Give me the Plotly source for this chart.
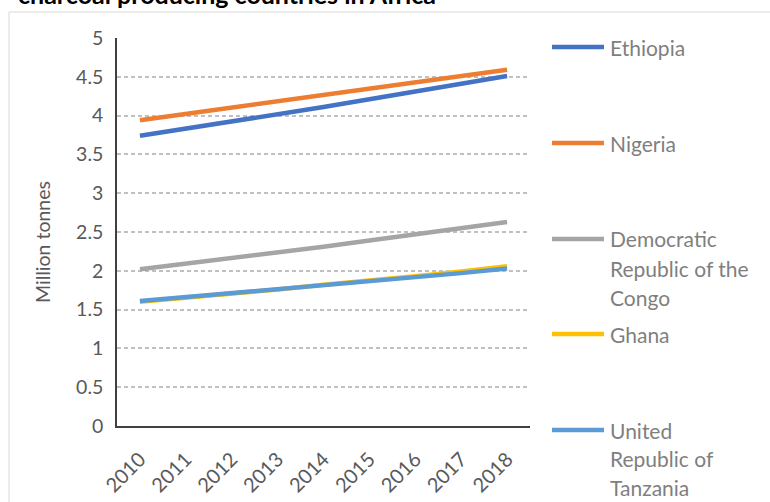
import plotly.graph_objects as go

years = ["2010", "2011", "2012", "2013", "2014", "2015", "2016", "2017", "2018"]
countries = ["Ethiopia", "Nigeria", "Democratic<br>Republic of the<br>Congo", "Ghana",
             "United<br>Republic of<br>Tanzania"]
ethiopia = [3.74, 3.83, 3.92, 4.02, 4.11, 4.21, 4.31, 4.41, 4.51]
nigeria = [3.94, 4.02, 4.10, 4.18, 4.26, 4.35, 4.43, 4.51, 4.59]
drc = [2.02, 2.09, 2.16, 2.23, 2.31, 2.39, 2.47, 2.55, 2.63]
ghana = [1.60, 1.65, 1.71, 1.76, 1.82, 1.87, 1.93, 1.99, 2.06]
tanzania = [1.61, 1.66, 1.71, 1.76, 1.81, 1.87, 1.92, 1.97, 2.03]
series = [ethiopia, nigeria, drc, ghana, tanzania]
colors = ["#4472C4", "#ED7D31", "#A5A5A5", "#FFC000", "#5B9BD5"]
y_ticks = [0, 0.5, 1, 1.5, 2, 2.5, 3, 3.5, 4, 4.5, 5]
title_text = "charcoal producing countries in Africa"
y_title = "Million tonnes"

W, H = 770, 502
L, R, T, B = 117, 240, 38, 76
pw, ph = W - L - R, H - T - B
FONT = "Lato"

def px2x(px):
    return (px - L) / pw

def py2y(py):
    return (H - B - py) / ph

fig = go.Figure()
for name, vals, col in zip(countries, series, colors):
    fig.add_trace(go.Scatter(x=years, y=vals, mode="lines", name=name.replace("<br>", " "),
                             line=dict(color=col, width=4.5), showlegend=False))

shapes = []
annotations = []
# outer chart border
shapes.append(dict(type="rect", xref="paper", yref="paper", x0=px2x(9), x1=px2x(900),
                   y0=py2y(700), y1=py2y(12), line=dict(color="#D9D9D9", width=1),
                   fillcolor="rgba(0,0,0,0)", layer="below"))

# manual legend
leg_y = [47, 143, 239, 334, 430]
for name, col, ly in zip(countries, colors, leg_y):
    shapes.append(dict(type="line", xref="paper", yref="paper", x0=px2x(552), x1=px2x(604),
                       y0=py2y(ly), y1=py2y(ly), line=dict(color=col, width=4.5)))
    for i, part in enumerate(name.split("<br>")):
        annotations.append(dict(text=part, xref="paper", yref="paper", x=px2x(608),
                                y=py2y(ly + 29 * i), xanchor="left", yanchor="middle",
                                showarrow=False, font=dict(family=FONT, size=21, color="#7F7F7F")))

annotations.append(dict(text=y_title, xref="paper", yref="paper", x=px2x(42), y=py2y(242),
                        textangle=-90, showarrow=False, xanchor="center", yanchor="middle",
                        font=dict(family=FONT, size=19.5, color="#595959")))
annotations.append(dict(text="<b>" + title_text + "</b>", xref="paper", yref="paper",
                        x=px2x(16), y=py2y(-6), xanchor="left", yanchor="middle",
                        showarrow=False, font=dict(family=FONT, size=25, color="#000000")))

fig.update_layout(
    width=W, height=H,
    margin=dict(l=L, r=R, t=T, b=B, autoexpand=False),
    paper_bgcolor="white", plot_bgcolor="white",
    shapes=shapes, annotations=annotations,
    showlegend=False,
)
fig.update_xaxes(type="category", range=[-0.5, 8.5], showgrid=False, ticks="",
                 tickangle=-45, tickfont=dict(family=FONT, size=20, color="#595959"),
                 ticklabelstandoff=12, automargin=False,
                 showline=True, linecolor="#404040", linewidth=1.5, zeroline=False)
fig.update_yaxes(range=[0, 5], tickvals=y_ticks, ticktext=[f"{v:g}" for v in y_ticks],
                 showgrid=True, gridcolor="#C0C0C0", griddash="4px,3px", gridwidth=1.5,
                 tickfont=dict(family=FONT, size=19.5, color="#595959"), ticks="",
                 ticklabelstandoff=8, automargin=False,
                 showline=True, linecolor="#404040", linewidth=1.5, zeroline=False)

fig.write_html("out.html")
